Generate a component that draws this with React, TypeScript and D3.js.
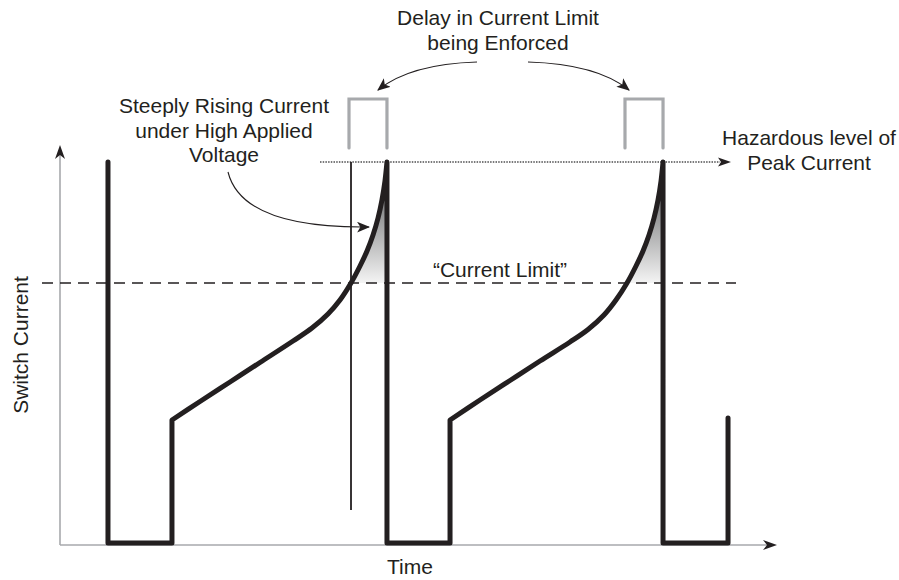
import React from "react";
import * as d3 from "d3";

// ---- data (time in arbitrary units 0..100, current in arbitrary units 0..10) ----
const firstSpike: [number, number][] = [[6.71, 9.525], [6.71, 0], [15.66, 0], [15.66, 3.075]];
const ramp1: [number, number][] = [
  [15.66, 3.075], [19.58, 3.5375], [23.78, 4.025], [27.97, 4.5125], [32.59, 5.05], [35.24, 5.375],
  [37.48, 5.725], [39.16, 6.075], [40.7, 6.5], [41.96, 6.925], [42.94, 7.3], [43.78, 7.7],
  [44.48, 8.125], [45.03, 8.575], [45.45, 9.05], [45.73, 9.525],
];
const offPeriod1: [number, number][] = [[45.73, 9.525], [45.73, 0], [54.55, 0], [54.55, 3.075]];
const ramp2: [number, number][] = [
  [54.55, 3.075], [58.74, 3.575], [62.94, 4.0625], [67.13, 4.55], [71.33, 5.025], [73.85, 5.3375],
  [76.08, 5.7], [77.76, 6.075], [79.3, 6.5], [80.56, 6.925], [81.54, 7.3], [82.38, 7.7],
  [83.08, 8.125], [83.64, 8.575], [84.06, 9.05], [84.34, 9.525],
];
const offPeriod2: [number, number][] = [[84.34, 9.525], [84.34, 0], [93.43, 0], [93.43, 3.125]];

const currentLimit = 6.5;
const hazardLevel = 9.525;
const limitCrossTimes = [40.7, 79.3];
const peakTimes = [45.73, 84.34];
const bracketTop = 11.1;
const bracketBottom = 9.875;
const crossMarkerBottom = 0.825;

const topLabel = ["Delay in Current Limit", "being Enforced"];
const leftLabel = ["Steeply Rising Current", "under High Applied", "Voltage"];
const rightLabel = ["Hazardous level of", "Peak Current"];
const limitLabel = "\u201CCurrent Limit\u201D";
const xLabel = "Time";
const yLabel = "Switch Current";

const W = 899;
const H = 580;
const INK = "#231f20";
const GRAY = "#a7a9ac";
const FONT = "'Liberation Sans', Arial, Helvetica, sans-serif";

export default function App() {
  const x = d3.scaleLinear().domain([0, 100]).range([60, 775]);
  const y = d3.scaleLinear().domain([0, 10]).range([543, 143]);

  const lin = d3.line<[number, number]>().x((d) => x(d[0])).y((d) => y(d[1]));
  const crv = d3
    .line<[number, number]>()
    .x((d) => x(d[0]))
    .y((d) => y(d[1]))
    .curve(d3.curveCatmullRom.alpha(0.5));

  const cont = (s: string | null) => (s || "").replace(/^M/, "L");
  const wave =
    (lin(firstSpike) || "") +
    cont(crv(ramp1)) +
    cont(lin(offPeriod1)) +
    cont(crv(ramp2)) +
    cont(lin(offPeriod2));

  const shade = (ramp: [number, number][], tPeak: number) => {
    const sub = ramp.filter((d) => d[1] >= currentLimit);
    return (crv(sub) || "") + `L${x(tPeak)},${y(currentLimit)}Z`;
  };

  const axisY = y(0) + 2;
  const axisX = x(0);

  const arrowHead = (tx: number, ty: number, angle: number, len = 14, half = 5, notch = 4) => {
    const c = Math.cos(angle), s = Math.sin(angle);
    const p = (a: number, b: number) => `${tx + a * c - b * s},${ty + a * s + b * c}`;
    return `M${p(0, 0)}L${p(-len, -half)}L${p(-len + notch, 0)}L${p(-len, half)}Z`;
  };

  return (
    <svg
      width={W}
      height={H}
      style={{ position: "absolute", left: 0, top: 0, background: "#fff" }}
      fontFamily={FONT}
    >
      <defs>
        <linearGradient id="shadeGrad" x1="0" y1="0" x2="0" y2="1">
          <stop offset="0" stopColor="#4a4b4d" />
          <stop offset="1" stopColor="#f4f4f4" />
        </linearGradient>
        <marker id="ah" viewBox="0 0 12 10" refX="11" refY="5" markerWidth="13" markerHeight="11" markerUnits="userSpaceOnUse" orient="auto">
          <path d="M0,0 L12,5 L0,10 L3,5 Z" fill={INK} />
        </marker>
      </defs>
      <rect width={W} height={H} fill="#fff" />

      {/* axes */}
      <line x1={axisX} y1={axisY} x2={axisX} y2={152} stroke={GRAY} strokeWidth={1.6} />
      <path d={arrowHead(axisX, 145, -Math.PI / 2)} fill={INK} />
      <line x1={axisX} y1={axisY} x2={770} y2={axisY} stroke={GRAY} strokeWidth={1.6} />
      <path d={arrowHead(777, axisY, 0)} fill={INK} />

      {/* shaded excess */}
      <path d={shade(ramp1, peakTimes[0])} fill="url(#shadeGrad)" />
      <path d={shade(ramp2, peakTimes[1])} fill="url(#shadeGrad)" />

      {/* current limit dashed */}
      <line x1={42} y1={y(currentLimit)} x2={736} y2={y(currentLimit)} stroke={INK} strokeWidth={1.4} strokeDasharray="11 7" />

      {/* hazardous dotted */}
      <line x1={320} y1={y(hazardLevel)} x2={720} y2={y(hazardLevel)} stroke="#4d4d4f" strokeWidth={1.6} strokeDasharray="1.5 1.2" />
      <path d={arrowHead(731, y(hazardLevel), 0, 13, 4.5, 3)} fill={INK} />

      {/* thin vertical marker at first limit crossing */}
      <line x1={x(limitCrossTimes[0])} y1={y(hazardLevel)} x2={x(limitCrossTimes[0])} y2={y(crossMarkerBottom)} stroke={INK} strokeWidth={1.8} />

      {/* waveform */}
      <path d={wave} fill="none" stroke={INK} strokeWidth={5} strokeLinejoin="round" strokeLinecap="round" />

      {/* delay brackets */}
      {limitCrossTimes.map((t, i) => (
        <path
          key={i}
          d={`M${x(t) - 2},${y(bracketBottom)}V${y(bracketTop)}H${x(peakTimes[i])}V${y(bracketBottom)}`}
          fill="none"
          stroke={GRAY}
          strokeWidth={3.2}
          strokeLinecap="round"
        />
      ))}

      {/* annotation arrows */}
      <path d="M477,62 Q410,64 378,90" fill="none" stroke={INK} strokeWidth={1.1} markerEnd="url(#ah)" />
      <path d="M528,62 Q597,64 629,90" fill="none" stroke={INK} strokeWidth={1.1} markerEnd="url(#ah)" />
      <path d="M228,172 C238,212 288,228 369,227" fill="none" stroke={INK} strokeWidth={1.1} markerEnd="url(#ah)" />

      {/* texts */}
      <g fill={INK} fontSize={21} textAnchor="middle">
        {topLabel.map((t, i) => (
          <text key={t} x={498} y={25 + i * 25}>{t}</text>
        ))}
        {leftLabel.map((t, i) => (
          <text key={t} x={224} y={113 + i * 24.5}>{t}</text>
        ))}
        {rightLabel.map((t, i) => (
          <text key={t} x={809} y={145 + i * 25}>{t}</text>
        ))}
        <text x={500} y={277}>{limitLabel}</text>
        <text x={410} y={574}>{xLabel}</text>
        <text transform="translate(28,345) rotate(-90)">{yLabel}</text>
      </g>
    </svg>
  );
}
